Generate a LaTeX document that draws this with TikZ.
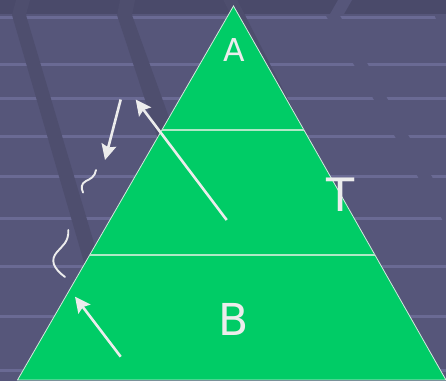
\documentclass[tikz,border=0pt]{standalone}
\usepackage{fontspec}
\setmainfont{DejaVu Sans}
\usetikzlibrary{arrows.meta,calc}
\definecolor{bgbase}{RGB}{86,86,122}
\definecolor{bgtop}{RGB}{74,74,106}
\definecolor{bgstripe}{RGB}{78,78,110}
\definecolor{bgline}{RGB}{106,106,148}
\definecolor{pyrgreen}{RGB}{0,204,102}
\definecolor{inkwhite}{RGB}{236,236,236}
\definecolor{divline}{RGB}{175,232,198}
\begin{document}
\begin{tikzpicture}[x=1pt,y=-1pt,
  arr/.style={draw=inkwhite, line width=2.6pt, -{Stealth[length=15.5pt,width=15pt,inset=2.5pt]}},
  squig/.style={draw=inkwhite, line width=1.9pt, line cap=round},
  lbl/.style={text=inkwhite, inner sep=0pt},
  divider/.style={draw=divline, line width=1.2pt},
  pyramid/.style={fill=pyrgreen, draw=inkwhite!90!pyrgreen, line width=0.8pt, line join=miter}]
% background
\useasboundingbox (0,0) rectangle (446,381);
\fill[bgbase] (0,0) rectangle (446,381);
\fill[bgtop] (0,0) rectangle (446,14);
\foreach \yy in {17,64,98,136,176,218,266,316,370}
  \fill[bgline] (0,\yy-1.5) rectangle (446,\yy+1.5);
% gaps in the lines on the right
\fill[bgbase] (325,14) -- (339,14) -- (456.6,220) -- (442.6,220) -- cycle;
\fill[bgbase] (330,14) -- (344,14) -- (352,0) -- (338,0) -- cycle;
\fill[bgbase] (434,14) -- (448,14) -- (452,24) -- (438,24) -- cycle;
% dark stripes on the left
\fill[bgstripe] (12,15) -- (26,15) -- (111,300) -- (95,300) -- cycle;
\fill[bgstripe] (12,15) -- (26,15) -- (30,0) -- (16,0) -- cycle;
\fill[bgstripe] (117,15) -- (132,15) -- (179,145) -- (160,145) -- cycle;
\fill[bgstripe] (117,15) -- (132,15) -- (135,0) -- (120,0) -- cycle;
% dark stripe beside the apex
\fill[bgstripe] (223.3,0) -- (237.3,0) -- (298.5,120) -- (284.5,120) -- cycle;
% pyramid
\coordinate (apex) at (233.5,6);
\coordinate (bl) at (17.5,380);
\coordinate (br) at (446,380);
\path[pyramid] (apex) -- (br) -- (bl) -- cycle;
\coordinate (l1) at ($(apex)!0.3316!(bl)$);
\coordinate (r1) at ($(apex)!0.3316!(br)$);
\coordinate (l2) at ($(apex)!0.6658!(bl)$);
\coordinate (r2) at ($(apex)!0.6658!(br)$);
\draw[divider] (l1) -- (r1);
\draw[divider] (l2) -- (r2);
% labels
\node[lbl, font=\fontsize{31.5}{36}\selectfont] (A) at (234.5,50) {A};
\node[lbl, font=\fontsize{46}{50}\selectfont] (T) at (341,195) {T};
\node[lbl, font=\fontsize{44}{50}\selectfont] (B) at (234,319) {B};
% arrows
\coordinate (a1s) at (120.7,99.5);
\coordinate (a1e) at (105,160);
\coordinate (a2s) at (226.7,220);
\coordinate (a2e) at (135.7,99.5);
\coordinate (a3s) at (120.7,356.7);
\coordinate (a3e) at (75,296.7);
\draw[arr] (a1s) -- (a1e);
\draw[arr] (a2s) -- (a2e);
\draw[arr] (a3s) -- (a3e);
% squiggles
\coordinate (s1a) at (96,170);
\coordinate (s1m) at (86,181);
\coordinate (s1b) at (83,192.5);
\draw[squig] (s1a) .. controls (95,177) and (90,179) .. (s1m) .. controls (81,183.5) and (81,188) .. (s1b);
\coordinate (s2a) at (68.3,230);
\coordinate (s2m) at (57,252);
\coordinate (s2b) at (65,277);
\draw[squig] (s2a) .. controls (69,242) and (62,246) .. (s2m) .. controls (50,260) and (53,268) .. (s2b);
\end{tikzpicture}
\end{document}
